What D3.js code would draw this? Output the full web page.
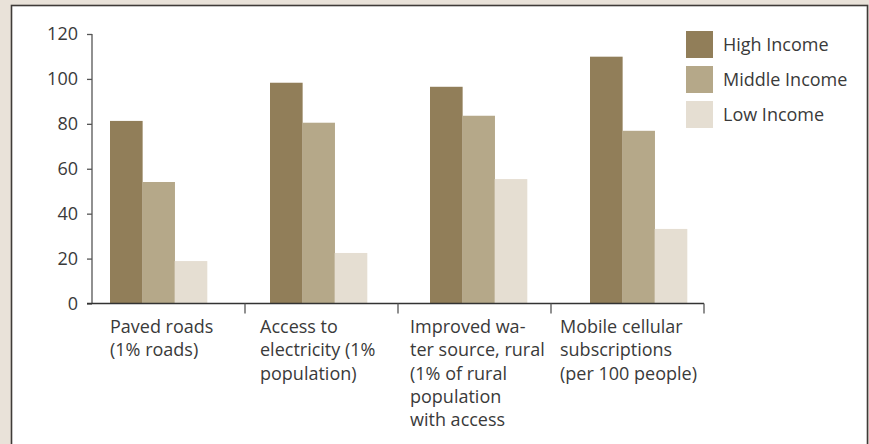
<!DOCTYPE html>
<html>
<head>
<meta charset="utf-8">
<script src="https://cdn.jsdelivr.net/npm/d3@7"></script>
<style>
  html, body { margin: 0; padding: 0; background: #e9e2d9; }
  svg { display: block; }
  text { font-family: "Open Sans", "Noto Sans", sans-serif; fill: #3a3a3a; }
</style>
</head>
<body>
<svg id="chart" width="869" height="444"></svg>
<script>
const categories = [
  "Paved roads\n(1% roads)",
  "Access to\nelectricity (1%\npopulation)",
  "Improved wa-\nter source, rural\n(1% of rural\npopulation\nwith access",
  "Mobile cellular\nsubscriptions\n(per 100 people)"
];
const seriesNames = ["High Income", "Middle Income", "Low Income"];
const highIncome   = [81.3, 98.3, 96.5, 109.9];
const middleIncome = [54.1, 80.5, 83.6, 76.9];
const lowIncome    = [18.9, 22.5, 55.4, 33.2];
const yTicks = [0, 20, 40, 60, 80, 100, 120];
const colors = ["#917e59", "#b5a889", "#e5ded2"];

const seriesValues = [highIncome, middleIncome, lowIncome];
const FS = 18;
const svg = d3.select("#chart");

// panel
svg.append("rect")
  .attr("x", 11.5).attr("y", 5.5)
  .attr("width", 856).attr("height", 460)
  .attr("fill", "#ffffff")
  .attr("stroke", "#3f3b38").attr("stroke-width", 1.6);

const y = d3.scaleLinear().domain([0, 120]).range([303.5, 34]);

// bar scales
const xBar = d3.scaleBand().domain(categories).range([92, 732]);
const xSub = d3.scaleBand().domain(seriesNames).range([18, 115]);
// axis scale (category boundaries)
const xAxisScale = d3.scaleBand().domain(categories).range([92, 704]);

// bars
seriesNames.forEach((s, si) => {
  svg.append("g").selectAll("rect")
    .data(categories)
    .join("rect")
    .attr("x", c => xBar(c) + xSub(s))
    .attr("width", xSub.bandwidth() + 0.3)
    .attr("y", (c, i) => y(seriesValues[si][i]))
    .attr("height", (c, i) => y(0) - y(seriesValues[si][i]))
    .attr("fill", colors[si]);
});

// y axis
const yAxis = d3.axisLeft(y).tickValues(yTicks).tickSize(5).tickPadding(9).tickSizeOuter(0);
const gy = svg.append("g").attr("transform", "translate(92,0)").call(yAxis);
gy.selectAll("path,line").attr("stroke", "#555").attr("stroke-width", 1.3);
gy.select(".domain").remove();
gy.append("line").attr("x1", 0).attr("x2", 0).attr("y1", y(120)).attr("y2", y(0)).attr("stroke", "#555").attr("stroke-width", 1.3);
gy.attr("font-size", FS).attr("font-family", null);
gy.selectAll("text").attr("font-size", FS).attr("fill", "#3a3a3a");

// x axis
const gx = svg.append("g");
gx.append("line")
  .attr("x1", 87).attr("x2", xAxisScale.range()[1])
  .attr("y1", y(0)).attr("y2", y(0))
  .attr("stroke", "#333").attr("stroke-width", 1.4);
gx.selectAll("line.tick")
  .data(categories)
  .join("line")
  .attr("class", "tick")
  .attr("x1", c => xAxisScale(c) + xAxisScale.bandwidth())
  .attr("x2", c => xAxisScale(c) + xAxisScale.bandwidth())
  .attr("y1", y(0)).attr("y2", y(0) + 10)
  .attr("stroke", "#555").attr("stroke-width", 1.3);

const labelOffsets = [18, 15, 12, 9];
gx.selectAll("text.cat")
  .data(categories)
  .join("text")
  .attr("class", "cat")
  .attr("font-size", FS)
  .each(function(c, i) {
    const t = d3.select(this);
    c.split("\n").forEach((line, li) => {
      t.append("tspan")
        .attr("x", xAxisScale(c) + labelOffsets[i])
        .attr("y", 333 + li * 23.3)
        .text(line);
    });
  });

// legend
const lg = svg.append("g").attr("transform", "translate(686,31)");
seriesNames.forEach((s, i) => {
  lg.append("rect").attr("x", 0).attr("y", i * 35).attr("width", 27).attr("height", 27).attr("fill", colors[i]);
  lg.append("text").attr("x", 37).attr("y", i * 35 + 13.5).attr("dy", "0.35em")
    .attr("font-size", FS).text(s);
});
</script>
</body>
</html>
